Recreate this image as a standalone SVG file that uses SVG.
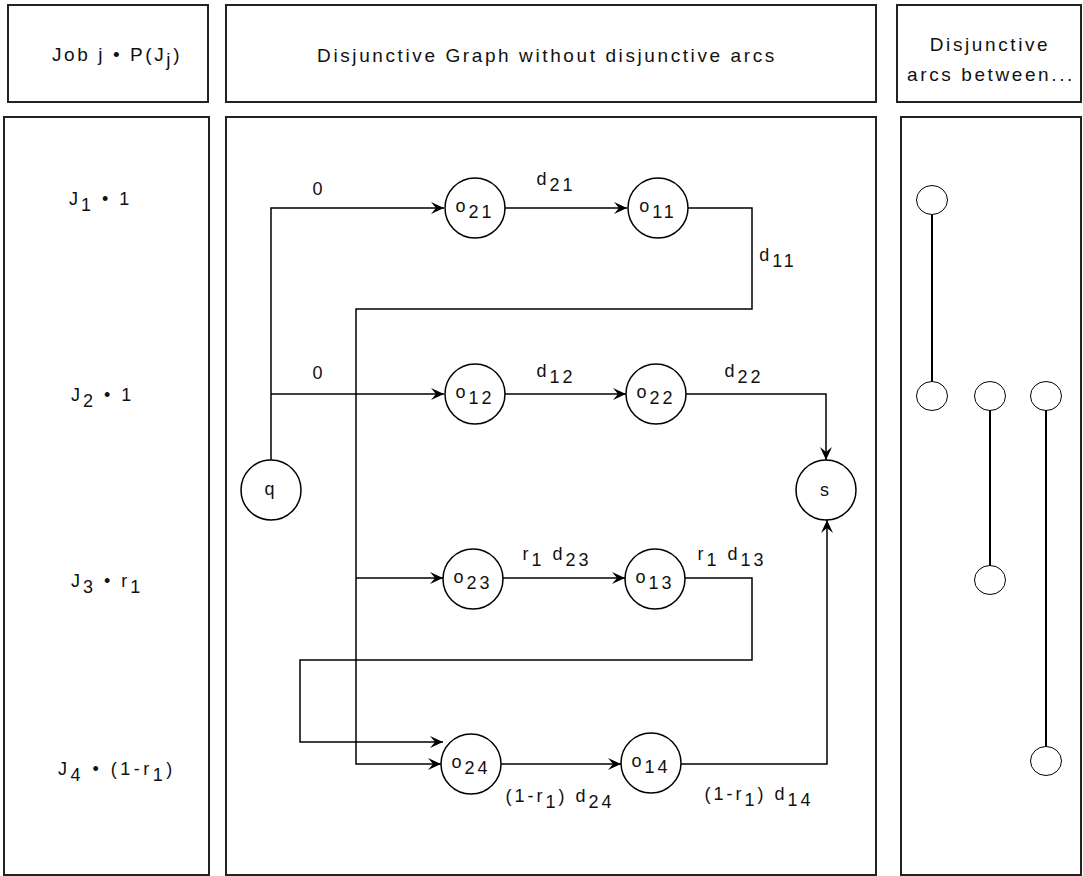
<svg xmlns="http://www.w3.org/2000/svg" width="1083" height="876" viewBox="0 0 1083 876">
<style>
.box{fill:#fff;stroke:#222;stroke-width:2}
.node{fill:#fff;stroke:#000;stroke-width:1.5}
.edge{fill:none;stroke:#000;stroke-width:1.5}
.dis{fill:none;stroke:#000;stroke-width:2}
.dn{fill:#fff;stroke:#000;stroke-width:1}
text{font-family:"Liberation Sans",Arial,sans-serif;font-size:18px;fill:#111;letter-spacing:3px}
.h{font-size:19px;letter-spacing:2.6px}
.c{text-anchor:middle}
</style>
<defs>
<marker id="arr" markerWidth="14" markerHeight="12" refX="13" refY="6" orient="auto" markerUnits="userSpaceOnUse">
<path d="M0,0 L13,6 L0,12 L5,6 Z" fill="#000"/>
</marker>
</defs>
<rect width="1083" height="876" fill="#fff"/>
<g id="headers">
<rect class="box" x="8" y="5" width="200" height="97"/>
<rect class="box" x="226" y="5" width="650" height="97"/>
<rect class="box" x="897" y="5" width="184" height="97"/>
<text x="117" y="61" class="c h">Job j • P(J<tspan dy="5">j</tspan><tspan dy="-5">)</tspan></text>
<text x="547" y="62" class="c h">Disjunctive Graph without disjunctive arcs</text>
<text x="990" y="51" class="c h">Disjunctive</text>
<text x="991" y="81" class="c h">arcs between...</text>
</g>
<g id="panels">
<rect class="box" x="4" y="117" width="205" height="758"/>
<rect class="box" x="226" y="117" width="650" height="758"/>
<rect class="box" x="901" y="117" width="180" height="758"/>
</g>
<g id="jobs">
<text x="69" y="205">J<tspan dy="6">1</tspan><tspan dy="-6"> • 1</tspan></text>
<text x="71" y="401">J<tspan dy="6">2</tspan><tspan dy="-6"> • 1</tspan></text>
<text x="71" y="587">J<tspan dy="6">3</tspan><tspan dy="-6"> • r</tspan><tspan dy="6">1</tspan></text>
<text x="58" y="775" style="letter-spacing:3.5px">J<tspan dy="6">4</tspan><tspan dy="-6"> • (1-r</tspan><tspan dy="6">1</tspan><tspan dy="-6">)</tspan></text>
</g>
<g id="connectors">
<path class="edge" d="M271,460 V208 H444" marker-end="url(#arr)"/>
<path class="edge" d="M271,394 H444" marker-end="url(#arr)"/>
<path class="edge" d="M505,208 H627" marker-end="url(#arr)"/>
<path class="edge" d="M688,208 H752 V309 H356 V764 H441" marker-end="url(#arr)"/>
<path class="edge" d="M356,578 H443" marker-end="url(#arr)"/>
<path class="edge" d="M505,394 H626" marker-end="url(#arr)"/>
<path class="edge" d="M686,394 H826 V460" marker-end="url(#arr)"/>
<path class="edge" d="M503,578 H625" marker-end="url(#arr)"/>
<path class="edge" d="M685,578 H752 V660 H300 V742 H443" marker-end="url(#arr)"/>
<path class="edge" d="M501,764 H621" marker-end="url(#arr)"/>
<path class="edge" d="M681,764 H827 V520" marker-end="url(#arr)"/>
</g>
<g id="edge-labels">
<text x="319" y="195" class="c">0</text>
<text x="319" y="379" class="c">0</text>
<text x="556" y="185" class="c">d<tspan dy="6">21</tspan></text>
<text x="778" y="261" class="c">d<tspan dy="6">11</tspan></text>
<text x="556" y="377" class="c">d<tspan dy="6">12</tspan></text>
<text x="744" y="377" class="c">d<tspan dy="6">22</tspan></text>
<text x="557" y="560" class="c">r<tspan dy="6">1</tspan><tspan dy="-6"> d</tspan><tspan dy="6">23</tspan></text>
<text x="732" y="560" class="c">r<tspan dy="6">1</tspan><tspan dy="-6"> d</tspan><tspan dy="6">13</tspan></text>
<text x="560" y="802" class="c">(1-r<tspan dy="6">1</tspan><tspan dy="-6">) d</tspan><tspan dy="6">24</tspan></text>
<text x="759" y="800" class="c">(1-r<tspan dy="6">1</tspan><tspan dy="-6">) d</tspan><tspan dy="6">14</tspan></text>
</g>
<g id="node-q"><circle class="node" cx="271" cy="490" r="30"/><text x="271" y="495" class="c">q</text></g>
<g id="node-s"><circle class="node" cx="826" cy="490" r="30"/><text x="826" y="496" class="c">s</text></g>
<g id="node-o21"><circle class="node" cx="475" cy="208" r="30"/><text x="475" y="212" class="c">o<tspan dy="6">21</tspan></text></g>
<g id="node-o11"><circle class="node" cx="658" cy="208" r="30"/><text x="658" y="212" class="c">o<tspan dy="6">11</tspan></text></g>
<g id="node-o12"><circle class="node" cx="475" cy="394" r="30"/><text x="475" y="398" class="c">o<tspan dy="6">12</tspan></text></g>
<g id="node-o22"><circle class="node" cx="656" cy="394" r="30"/><text x="656" y="398" class="c">o<tspan dy="6">22</tspan></text></g>
<g id="node-o23"><circle class="node" cx="473" cy="579" r="30"/><text x="473" y="583" class="c">o<tspan dy="6">23</tspan></text></g>
<g id="node-o13"><circle class="node" cx="655" cy="579" r="30"/><text x="655" y="583" class="c">o<tspan dy="6">13</tspan></text></g>
<g id="node-o24"><circle class="node" cx="471" cy="764" r="30"/><text x="471" y="768" class="c">o<tspan dy="6">24</tspan></text></g>
<g id="node-o14"><circle class="node" cx="651" cy="763" r="30"/><text x="651" y="767" class="c">o<tspan dy="6">14</tspan></text></g>
<g id="disjunctive-arcs">
<line class="dis" x1="932" y1="215" x2="932" y2="381"/>
<line class="dis" x1="990" y1="410" x2="990" y2="566"/>
<line class="dis" x1="1046" y1="410" x2="1046" y2="746"/>
</g>
<g id="dn1"><ellipse class="dn" cx="932" cy="200" rx="15.5" ry="14.5"/></g>
<g id="dn2"><ellipse class="dn" cx="932" cy="396" rx="15.5" ry="14.5"/></g>
<g id="dn3"><ellipse class="dn" cx="990" cy="396" rx="15.5" ry="14.5"/></g>
<g id="dn4"><ellipse class="dn" cx="1046" cy="396" rx="15.5" ry="14.5"/></g>
<g id="dn5"><ellipse class="dn" cx="990" cy="580" rx="15.5" ry="14.5"/></g>
<g id="dn6"><ellipse class="dn" cx="1046" cy="761" rx="15.5" ry="14.5"/></g>
</svg>
